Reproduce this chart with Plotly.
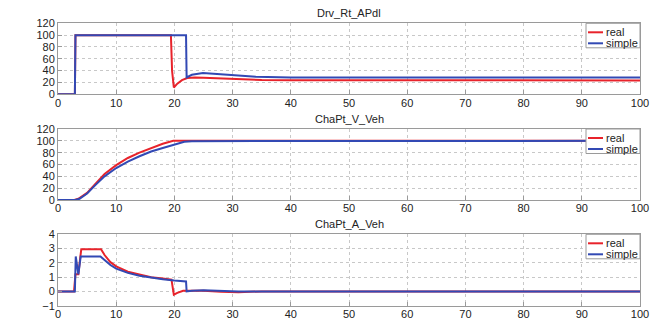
import plotly.graph_objects as go

# ---- data ----
t_apdl_real = [0, 2.9, 3.0, 19.4, 19.6, 19.9, 20.5, 21.3, 22.2, 23.5, 25, 28, 31, 35, 40, 100]
apdl_real = [0, 0, 100, 100, 40, 11.5, 18, 24, 27.5, 28.5, 28, 26.5, 25, 24.2, 23.8, 23.5]
t_apdl_simple = [0, 2.9, 3.0, 22.0, 22.1, 23.0, 24.9, 27, 30, 34, 40, 100]
apdl_simple = [0, 0, 100, 100, 28.5, 33, 36, 34.5, 32, 29.5, 28.5, 28.5]

t_v_real = [0, 2.8, 3.5, 5, 6.5, 8, 10, 12, 14, 16, 18, 19.8, 21, 100]
v_real = [0, 0, 2, 12, 28, 44, 59, 71, 80, 88, 95, 100, 100, 100]
t_v_simple = [0, 3.0, 3.7, 5, 6.5, 8, 10, 12, 14, 16, 18, 20, 21.7, 23, 100]
v_simple = [0, 0, 2, 11, 26, 40, 54, 65, 74, 82, 88, 93, 98.5, 99.5, 100]

t_a_real = [0, 2.75, 3.0, 3.5, 3.8, 4.0, 7.4, 8, 9, 10, 12, 14, 16, 18, 19.5, 19.9, 20.5, 21.5, 23, 25, 28, 31, 35, 100]
a_real = [0, 0, 1.2, 1.2, 2.3, 2.95, 2.95, 2.55, 2.05, 1.75, 1.38, 1.17, 1.0, 0.9, 0.82, -0.23, -0.1, 0.05, 0.07, 0.05, -0.03, -0.05, 0, 0]
t_a_simple = [0, 2.9, 3.05, 3.3, 3.5, 3.9, 7.3, 8, 9, 10, 12, 14, 16, 18, 20, 22.0, 22.1, 23, 25, 28, 31, 100]
a_simple = [0, 0, 2.45, 1.5, 1.2, 2.45, 2.45, 2.2, 1.85, 1.6, 1.3, 1.1, 0.95, 0.85, 0.76, 0.7, 0.0, 0.05, 0.08, 0.05, 0.0, 0.0]

titles = ["Drv_Rt_APdl", "ChaPt_V_Veh", "ChaPt_A_Veh"]
series_names = ["real", "simple"]
x_ticks = [0, 10, 20, 30, 40, 50, 60, 70, 80, 90, 100]
y_ticks_pct = [0, 20, 40, 60, 80, 100, 120]
y_ticks_acc = [-1, 0, 1, 2, 3, 4]

RED = "#e8232b"
BLUE = "#3249b4"
COLORS = [RED, BLUE]
OFF = 8            # page body margin
W, H = 658 - OFF, 322 - OFF
FONT = "Liberation Sans, Arial, sans-serif"


def px(x):
    return (x - OFF) / W


def py(y):
    return 1 - (y - OFF) / H


panels = [
    (t_apdl_real, apdl_real, t_apdl_simple, apdl_simple, [0, 120], y_ticks_pct, 23.3, 94.3),
    (t_v_real, v_real, t_v_simple, v_simple, [0, 120], y_ticks_pct, 129, 200),
    (t_a_real, a_real, t_a_simple, a_simple, [-1, 4], y_ticks_acc, 234.3, 305.7),
]

fig = go.Figure()
x0p, x1p = 58, 640
font = dict(family=FONT, size=11, color="#222222")
shapes = []
annotations = []

for i, (tr, yr, ts, ys, yrange, yt, ptop, pbot) in enumerate(panels):
    n = i + 1
    xa = "x" if n == 1 else f"x{n}"
    ya = "y" if n == 1 else f"y{n}"
    for name, tx, vy, col in zip(series_names, [tr, ts], [yr, ys], COLORS):
        fig.add_trace(go.Scatter(x=tx, y=vy, mode="lines", name=name, showlegend=False,
                                 line=dict(color=col, width=2), xaxis=xa, yaxis=ya))
    dom_y = [py(pbot), py(ptop)]
    axkey = "xaxis" if n == 1 else f"xaxis{n}"
    aykey = "yaxis" if n == 1 else f"yaxis{n}"
    common = dict(showline=True, mirror=True, linecolor="#9a9a9a", linewidth=1,
                  showgrid=True, gridcolor="#c8c8c8", griddash="dot", gridwidth=1,
                  zeroline=False, ticks="inside", ticklen=4, tickcolor="#9a9a9a",
                  tickfont=font, automargin=False)
    fig.update_layout(**{
        axkey: dict(domain=[px(x0p), px(x1p)], range=[0, 100], tickvals=x_ticks,
                    anchor=ya, ticklabelstandoff=-2, **common),
        aykey: dict(domain=dom_y, range=yrange, tickvals=yt, anchor=xa, **common),
    })
    annotations.append(dict(text=titles[i], x=px((x0p + x1p) / 2), y=dom_y[1], xref="paper", yref="paper",
                            xanchor="center", yanchor="bottom", yshift=2, showarrow=False,
                            font=dict(family=FONT, size=11, color="#222222")))
    # legend box (top-right, inside axes)
    lx0, lx1 = 586, x1p
    ly0, ly1 = ptop, ptop + 24.5
    shapes.append(dict(type="rect", xref="paper", yref="paper", x0=px(lx0), x1=px(lx1),
                       y0=py(ly1), y1=py(ly0), line=dict(color="#9a9a9a", width=1),
                       fillcolor="white", layer="above"))
    for k, (name, col) in enumerate(zip(series_names, COLORS)):
        yy = ptop + 9 + k * 11
        shapes.append(dict(type="line", xref="paper", yref="paper", x0=px(588), x1=px(603),
                           y0=py(yy), y1=py(yy), line=dict(color=col, width=2), layer="above"))
        annotations.append(dict(text=name, x=px(604), y=py(yy), xref="paper", yref="paper",
                                xanchor="left", yanchor="middle", showarrow=False,
                                font=dict(family=FONT, size=11, color="#222222")))

fig.update_layout(width=W, height=H, margin=dict(l=0, r=0, t=0, b=0),
                  paper_bgcolor="white", plot_bgcolor="white", showlegend=False,
                  shapes=shapes, annotations=annotations)
fig.write_html("out.html")
